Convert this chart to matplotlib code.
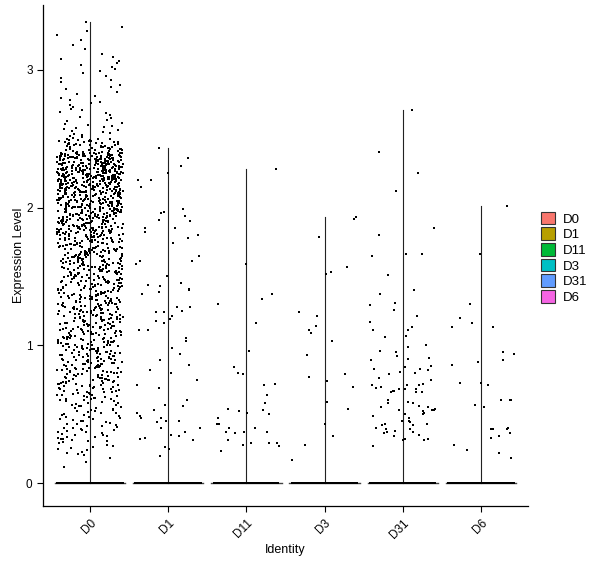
import numpy as np
import matplotlib
matplotlib.use("Agg")
import matplotlib.pyplot as plt
from matplotlib.patches import Patch

plt.rcParams['font.family'] = ['Liberation Sans', 'DejaVu Sans']

categories = ["D0", "D1", "D11", "D3", "D31", "D6"]
colors = ["#F8766D", "#B79F00", "#00BA38", "#00BFC4", "#619CFF", "#F564E3"]

# D0 has too many cells to list: counts of expressing cells per 0.1-wide bin (lower edge)
d0_bin_edges = [0.1, 0.2, 0.3, 0.4, 0.5, 0.6, 0.7, 0.8, 0.9, 1.0, 1.1, 1.2, 1.3, 1.4, 1.5, 1.6,
                1.7, 1.8, 1.9, 2.0, 2.1, 2.2, 2.3, 2.4, 2.5, 2.6, 2.7, 2.8, 2.9, 3.0, 3.1, 3.2, 3.3]
d0_bin_counts = [3, 12, 20, 20, 22, 32, 40, 45, 45, 45, 48, 50, 50, 52, 58, 62,
                 62, 75, 82, 95, 110, 125, 120, 50, 14, 9, 8, 6, 6, 7, 3, 3, 1]
d0_max = 3.31

d1_values = [2.43, 2.36, 2.30, 2.25, 2.20, 2.20, 2.15, 1.99, 1.97, 1.96, 1.94, 1.91, 1.90, 1.85, 1.85,
             1.82, 1.80, 1.78, 1.74, 1.65, 1.61, 1.61, 1.59, 1.50, 1.45, 1.44, 1.43, 1.41, 1.40, 1.39,
             1.37, 1.28, 1.28, 1.25, 1.24, 1.24, 1.21, 1.19, 1.18, 1.16, 1.11, 1.11, 1.05, 1.03, 0.98,
             0.94, 0.89, 0.86, 0.82, 0.80, 0.75, 0.71, 0.69, 0.60, 0.57, 0.56, 0.53, 0.51, 0.49, 0.47,
             0.47, 0.45, 0.45, 0.44, 0.40, 0.40, 0.37, 0.35, 0.34, 0.33, 0.32, 0.31, 0.26, 0.25, 0.20]
d11_values = [2.28, 1.59, 1.37, 1.34, 1.30, 1.16, 0.96, 0.84, 0.80, 0.79, 0.72, 0.71, 0.64, 0.58, 0.54,
              0.53, 0.52, 0.51, 0.50, 0.47, 0.43, 0.43, 0.40, 0.40, 0.37, 0.37, 0.37, 0.36, 0.31, 0.29,
              0.29, 0.29, 0.28, 0.27, 0.23]
d3_values = [1.93, 1.92, 1.79, 1.57, 1.53, 1.52, 1.24, 1.21, 1.14, 1.11, 1.09, 1.03, 0.93, 0.79, 0.77,
             0.74, 0.70, 0.59, 0.54, 0.43, 0.34, 0.28, 0.17]
d31_values = [2.71, 2.40, 2.25, 2.12, 1.85, 1.80, 1.66, 1.66, 1.65, 1.51, 1.40, 1.37, 1.31, 1.29, 1.26,
              1.21, 1.17, 1.13, 1.11, 1.11, 1.07, 1.06, 1.00, 0.99, 0.96, 0.95, 0.92, 0.91, 0.90, 0.89,
              0.85, 0.84, 0.83, 0.83, 0.82, 0.81, 0.80, 0.79, 0.76, 0.75, 0.72, 0.71, 0.71, 0.71, 0.70,
              0.69, 0.68, 0.68, 0.68, 0.68, 0.67, 0.67, 0.66, 0.66, 0.66, 0.60, 0.59, 0.58, 0.58, 0.56,
              0.55, 0.55, 0.54, 0.53, 0.53, 0.53, 0.52, 0.51, 0.50, 0.50, 0.49, 0.47, 0.45, 0.45, 0.44,
              0.43, 0.43, 0.42, 0.42, 0.40, 0.39, 0.39, 0.38, 0.37, 0.37, 0.36, 0.35, 0.34, 0.32, 0.32,
              0.31, 0.31, 0.27]
d6_values = [2.01, 1.66, 1.30, 1.20, 1.16, 1.13, 1.13, 0.95, 0.94, 0.89, 0.88, 0.86, 0.73, 0.73, 0.71,
             0.60, 0.60, 0.60, 0.57, 0.55, 0.40, 0.39, 0.39, 0.39, 0.36, 0.34, 0.33, 0.28, 0.24, 0.22, 0.18]
zero_counts = [400, 400, 400, 400, 400, 400]

yticks = [0, 1, 2, 3]


def jitter_offsets(n, seed_shift):
    """Deterministic hash-based horizontal jitter in [-1, 1] (like geom_jitter)."""
    k = np.arange(n, dtype=float) + 1.0 + 1000.0 * seed_shift
    h = np.sin(k * 12.9898 + 78.233 * seed_shift) * 43758.5453
    return 2.0 * (h - np.floor(h)) - 1.0


# expand D0 histogram into values (spread evenly within each bin)
d0_values = [d0_max]
for edge, cnt in zip(d0_bin_edges, d0_bin_counts):
    for k in range(cnt):
        d0_values.append(edge + 0.1 * (k + 0.5) / cnt)
group_values = [d0_values, d1_values, d11_values, d3_values, d31_values, d6_values]

fig = plt.figure(figsize=(6.0, 5.68), dpi=100)
ax = fig.add_axes([0.0717, 0.109, 0.808, 0.882])

jit = 0.42
msize = 2.0
for i, (cat, vals, nz) in enumerate(zip(categories, group_values, zero_counts)):
    vals = np.asarray(vals)
    vmax = vals.max()
    # violin remnants
    ax.plot([i, i], [0, vmax], color="#222222", lw=0.8, zorder=2)
    ax.plot([i - 0.45, i + 0.45], [0, 0], color="#444444", lw=1.0, zorder=2)
    # zeros
    xz = i + jit * jitter_offsets(nz, i + 11)
    ax.scatter(xz, np.zeros(nz), s=msize, marker="s", color="black", linewidths=0, zorder=3)
    # expressing cells
    xs = i + jit * jitter_offsets(len(vals), i + 1)
    ax.scatter(xs, vals, s=msize, marker="s", color="black", linewidths=0, zorder=3)

ax.set_xlim(-0.6, len(categories) - 0.4)
ax.set_ylim(-0.167, 3.47)
ax.set_xticks(range(len(categories)))
ax.set_xticklabels(categories, rotation=45, ha="right", va="top", rotation_mode="anchor")
ax.set_yticks(yticks)
ax.set_yticklabels([str(t) for t in yticks])
ax.tick_params(axis="both", length=4, width=0.8, color="black", labelsize=8.5, labelcolor="black")
ax.tick_params(axis="x", pad=4)
for s in ["top", "right"]:
    ax.spines[s].set_visible(False)
for s in ["left", "bottom"]:
    ax.spines[s].set_linewidth(0.9)
    ax.spines[s].set_color("black")
ax.set_xlabel("Identity", fontsize=9, labelpad=2)
ax.set_ylabel("Expression Level", fontsize=9, labelpad=1)

handles = [Patch(facecolor=c, edgecolor="#333333", linewidth=0.8, label=l) for c, l in zip(colors, categories)]
fig.legend(handles=handles, loc="center left", bbox_to_anchor=(0.893, 0.546), frameon=False,
           handlelength=1.05, handleheight=1.1, handletextpad=0.6, labelspacing=0.14, fontsize=9.5,
           borderaxespad=0)

fig.savefig("out.png", dpi=100)
